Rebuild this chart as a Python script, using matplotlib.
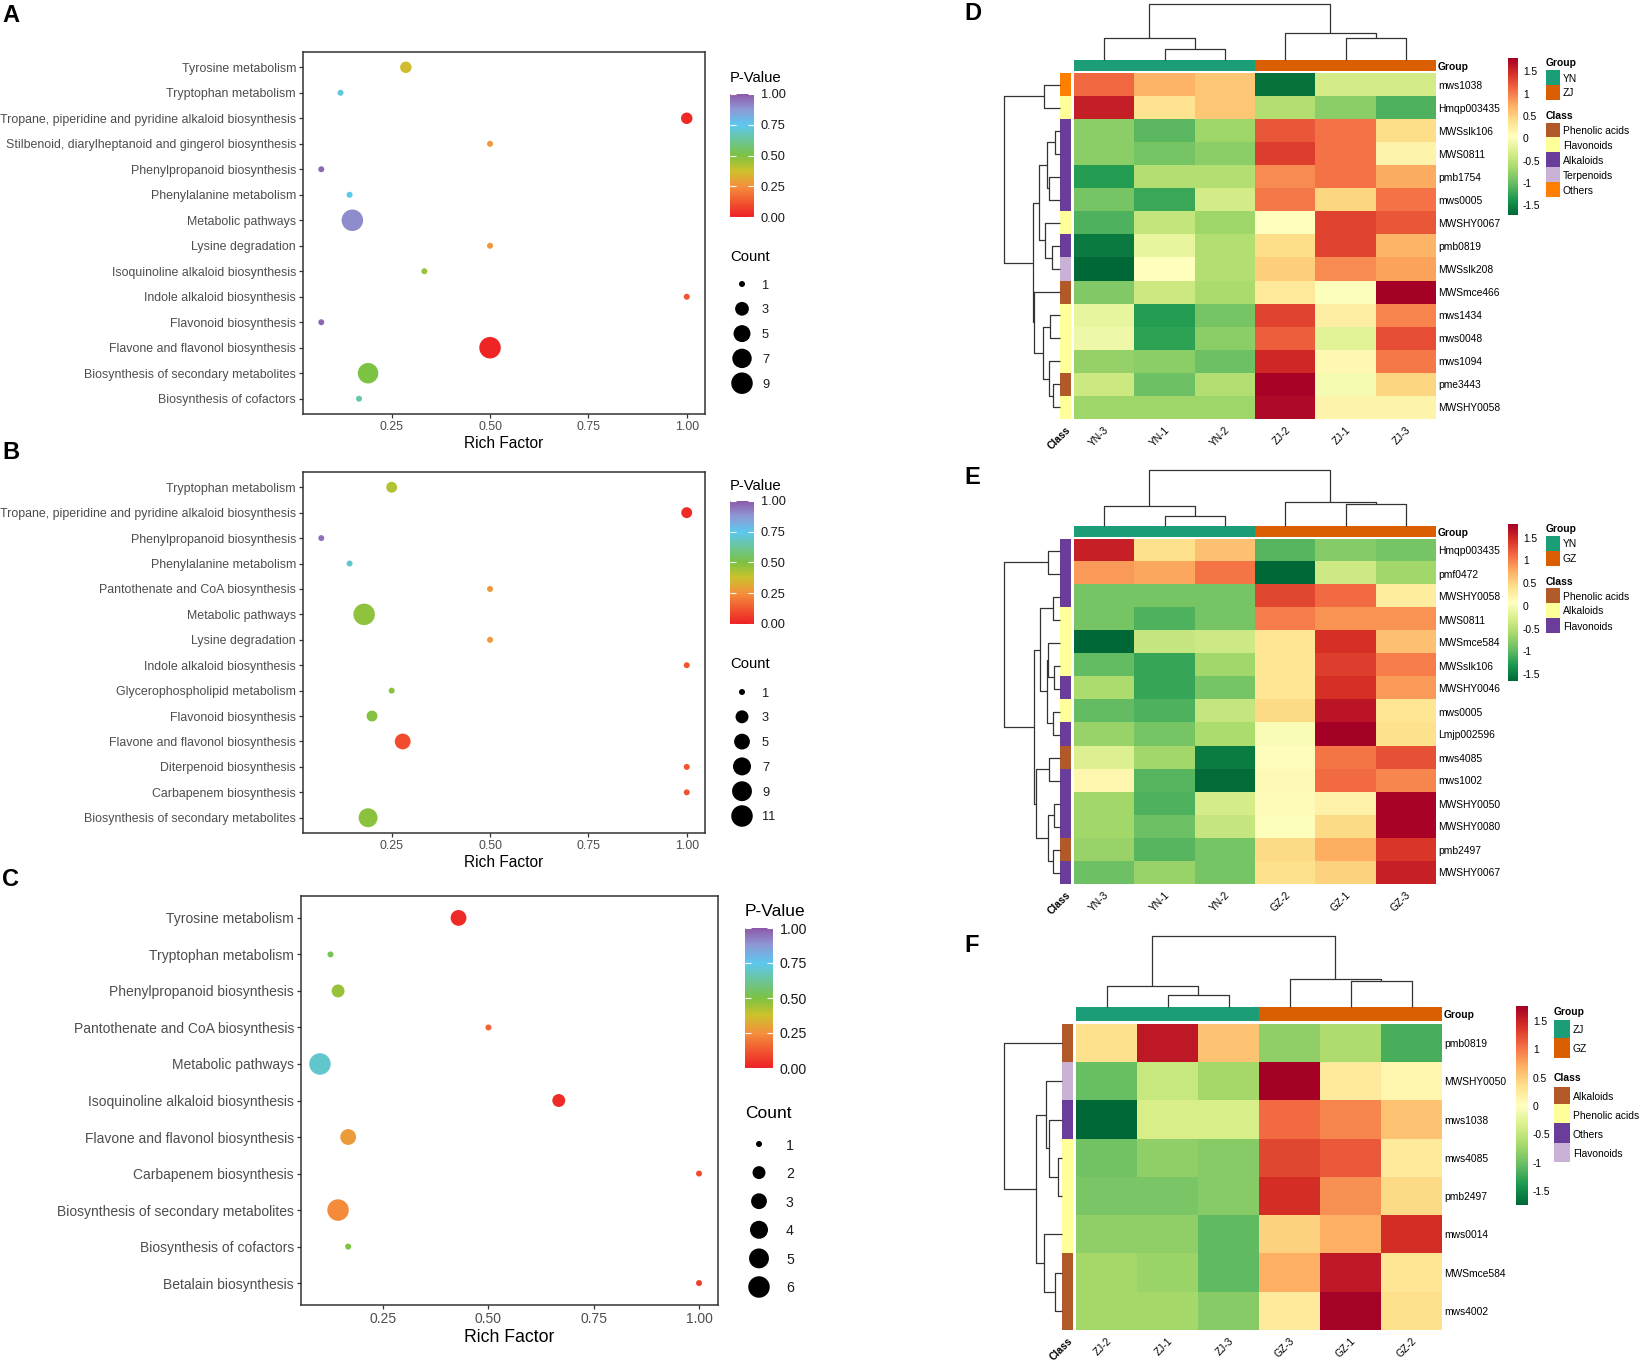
import numpy as np
import matplotlib
matplotlib.use('Agg')
import matplotlib.pyplot as plt
from matplotlib.colors import LinearSegmentedColormap, ListedColormap, Normalize
from matplotlib.cm import ScalarMappable
from matplotlib import font_manager

_avail = {f.name for f in font_manager.fontManager.ttflist}
BASE_FONT = 'Liberation Sans' if 'Liberation Sans' in _avail else 'DejaVu Sans'
if 'Liberation Sans Narrow' in _avail:
    HM_FONT, HM_FS = 'Liberation Sans Narrow', 8.8
else:
    HM_FONT, HM_FS = BASE_FONT, 7.4
plt.rcParams['font.family'] = [BASE_FONT, 'DejaVu Sans']

# ----------------------------------------------------------------- data: bubble plots
A_terms = ['Tyrosine metabolism', 'Tryptophan metabolism',
           'Tropane, piperidine and pyridine alkaloid biosynthesis',
           'Stilbenoid, diarylheptanoid and gingerol biosynthesis',
           'Phenylpropanoid biosynthesis', 'Phenylalanine metabolism',
           'Metabolic pathways', 'Lysine degradation',
           'Isoquinoline alkaloid biosynthesis', 'Indole alkaloid biosynthesis',
           'Flavonoid biosynthesis', 'Flavone and flavonol biosynthesis',
           'Biosynthesis of secondary metabolites', 'Biosynthesis of cofactors']
A_rich = [0.286, 0.12, 1.0, 0.5, 0.071, 0.143, 0.15, 0.5, 0.333, 1.0, 0.071, 0.5, 0.19, 0.167]
A_count = [2, 1, 2, 1, 1, 1, 9, 1, 1, 1, 1, 9, 8, 1]
A_pvalue = [0.36, 0.72, 0.02, 0.27, 0.97, 0.74, 0.90, 0.27, 0.46, 0.12, 0.97, 0.01, 0.50, 0.66]
A_count_breaks = [1, 3, 5, 7, 9]

B_terms = ['Tryptophan metabolism',
           'Tropane, piperidine and pyridine alkaloid biosynthesis',
           'Phenylpropanoid biosynthesis', 'Phenylalanine metabolism',
           'Pantothenate and CoA biosynthesis', 'Metabolic pathways',
           'Lysine degradation', 'Indole alkaloid biosynthesis',
           'Glycerophospholipid metabolism', 'Flavonoid biosynthesis',
           'Flavone and flavonol biosynthesis', 'Diterpenoid biosynthesis',
           'Carbapenem biosynthesis', 'Biosynthesis of secondary metabolites']
B_rich = [0.25, 1.0, 0.071, 0.143, 0.5, 0.18, 0.5, 1.0, 0.25, 0.2, 0.278, 1.0, 1.0, 0.19]
B_count = [2, 2, 1, 1, 1, 11, 1, 1, 1, 2, 5, 1, 1, 8]
B_pvalue = [0.42, 0.02, 0.95, 0.70, 0.27, 0.47, 0.27, 0.12, 0.48, 0.49, 0.10, 0.12, 0.12, 0.48]
B_count_breaks = [1, 3, 5, 7, 9, 11]

C_terms = ['Tyrosine metabolism', 'Tryptophan metabolism',
           'Phenylpropanoid biosynthesis', 'Pantothenate and CoA biosynthesis',
           'Metabolic pathways', 'Isoquinoline alkaloid biosynthesis',
           'Flavone and flavonol biosynthesis', 'Carbapenem biosynthesis',
           'Biosynthesis of secondary metabolites', 'Biosynthesis of cofactors',
           'Betalain biosynthesis']
C_rich = [0.429, 0.125, 0.143, 0.5, 0.1, 0.667, 0.167, 1.0, 0.143, 0.167, 1.0]
C_count = [3, 1, 2, 1, 6, 2, 3, 1, 6, 1, 1]
C_pvalue = [0.02, 0.53, 0.46, 0.15, 0.70, 0.03, 0.28, 0.10, 0.24, 0.50, 0.07]
C_count_breaks = [1, 2, 3, 4, 5, 6]

RICH_TICKS = [0.25, 0.50, 0.75, 1.00]
PVAL_TICKS = [0.0, 0.25, 0.50, 0.75, 1.00]

# ----------------------------------------------------------------- data: heatmaps
D_rows = ['mws1038', 'Hmqp003435', 'MWSslk106', 'MWS0811', 'pmb1754', 'mws0005',
          'MWSHY0067', 'pmb0819', 'MWSslk208', 'MWSmce466', 'mws1434', 'mws0048',
          'mws1094', 'pme3443', 'MWSHY0058']
D_cols = ['YN-3', 'YN-1', 'YN-2', 'ZJ-2', 'ZJ-1', 'ZJ-3']
D_values = [
    [1.12, 0.69, 0.57, -1.65, -0.35, -0.35],
    [1.57, 0.35, 0.57, -0.57, -0.80, -1.12],
    [-0.80, -1.07, -0.69, 1.22, 1.07, 0.40],
    [-0.80, -0.92, -0.80, 1.37, 1.07, 0.17],
    [-1.32, -0.57, -0.57, 0.92, 1.07, 0.75],
    [-0.92, -1.22, -0.35, 1.02, 0.46, 1.07],
    [-1.12, -0.46, -0.69, 0.03, 1.32, 1.22],
    [-1.57, -0.17, -0.57, 0.40, 1.32, 0.69],
    [-1.72, 0.05, -0.57, 0.51, 0.92, 0.80],
    [-0.86, -0.40, -0.63, 0.29, 0.02, 1.80],
    [-0.17, -1.32, -0.92, 1.32, 0.23, 0.97],
    [-0.11, -1.27, -0.80, 1.17, -0.23, 1.27],
    [-0.75, -0.80, -0.97, 1.50, 0.11, 1.02],
    [-0.40, -0.97, -0.57, 1.76, -0.05, 0.46],
    [-0.69, -0.69, -0.69, 1.72, 0.17, 0.17],
]
D_row_class = ['Others', 'Flavonoids', 'Alkaloids', 'Alkaloids', 'Alkaloids', 'Alkaloids',
               'Flavonoids', 'Alkaloids', 'Terpenoids', 'Phenolic acids', 'Flavonoids',
               'Flavonoids', 'Flavonoids', 'Phenolic acids', 'Flavonoids']
D_class_names = ['Phenolic acids', 'Flavonoids', 'Alkaloids', 'Terpenoids', 'Others']
D_group_names = ['YN', 'ZJ']
D_col_merges = [(1, 2, 0.19), (0, 6, 0.39), (4, 5, 0.39), (3, 8, 0.48), (7, 9, 1.0)]
D_row_merges = [(0, 1, 0.29), (2, 3, 0.09), (4, 5, 0.19), (16, 17, 0.23), (7, 8, 0.14),
                (6, 19, 0.27), (18, 20, 0.38), (10, 11, 0.18), (13, 14, 0.12),
                (12, 23, 0.20), (22, 24, 0.30), (9, 25, 0.46), (21, 26, 0.49),
                (15, 27, 1.0)]

E_rows = ['Hmqp003435', 'pmf0472', 'MWSHY0058', 'MWS0811', 'MWSmce584', 'MWSslk106',
          'MWSHY0046', 'mws0005', 'Lmjp002596', 'mws4085', 'mws1002', 'MWSHY0050',
          'MWSHY0080', 'pmb2497', 'MWSHY0067']
E_cols = ['YN-3', 'YN-1', 'YN-2', 'GZ-2', 'GZ-1', 'GZ-3']
E_values = [
    [1.57, 0.40, 0.63, -1.02, -0.80, -0.86],
    [0.86, 0.80, 1.07, -1.65, -0.35, -0.63],
    [-0.86, -0.86, -0.86, 1.32, 1.12, 0.29],
    [-0.86, -1.07, -0.86, 1.02, 0.90, 0.90],
    [-1.65, -0.40, -0.35, 0.35, 1.45, 0.63],
    [-0.97, -1.17, -0.63, 0.35, 1.37, 1.02],
    [-0.57, -1.17, -0.86, 0.35, 1.45, 0.86],
    [-0.97, -1.07, -0.40, 0.46, 1.65, 0.35],
    [-0.69, -0.86, -0.57, 0.02, 1.80, 0.40],
    [-0.23, -0.63, -1.50, 0.09, 1.07, 1.27],
    [0.17, -1.02, -1.61, 0.13, 1.12, 0.97],
    [-0.63, -1.07, -0.29, 0.11, 0.21, 1.76],
    [-0.63, -0.92, -0.40, 0.05, 0.46, 1.76],
    [-0.69, -1.02, -0.86, 0.46, 0.75, 1.42],
    [-0.92, -0.69, -0.86, 0.40, 0.51, 1.57],
]
E_row_class = ['Flavonoids', 'Flavonoids', 'Flavonoids', 'Alkaloids', 'Alkaloids',
               'Alkaloids', 'Flavonoids', 'Alkaloids', 'Flavonoids', 'Phenolic acids',
               'Flavonoids', 'Flavonoids', 'Flavonoids', 'Phenolic acids', 'Flavonoids']
E_class_names = ['Phenolic acids', 'Alkaloids', 'Flavonoids']
E_group_names = ['YN', 'GZ']
E_col_merges = [(1, 2, 0.18), (0, 6, 0.35), (4, 5, 0.40), (3, 8, 0.43), (7, 9, 1.0)]
E_row_merges = [(0, 1, 0.21), (2, 3, 0.12), (5, 6, 0.10), (4, 17, 0.21), (7, 8, 0.12),
                (18, 19, 0.24), (16, 20, 0.35), (9, 10, 0.19), (11, 12, 0.10),
                (13, 14, 0.12), (23, 24, 0.21), (22, 25, 0.42), (21, 26, 0.47),
                (15, 27, 1.0)]

F_rows = ['pmb0819', 'MWSHY0050', 'mws1038', 'mws4085', 'pmb2497', 'mws0014',
          'MWSmce584', 'mws4002']
F_cols = ['ZJ-2', 'ZJ-1', 'ZJ-3', 'GZ-3', 'GZ-1', 'GZ-2']
F_values = [
    [0.35, 1.57, 0.57, -0.80, -0.63, -1.17],
    [-1.02, -0.46, -0.69, 1.76, 0.23, 0.11],
    [-1.74, -0.35, -0.35, 1.07, 0.92, 0.57],
    [-0.97, -0.80, -0.86, 1.27, 1.17, 0.23],
    [-0.92, -0.92, -0.86, 1.42, 0.86, 0.40],
    [-0.80, -0.80, -1.07, 0.46, 0.69, 1.42],
    [-0.69, -0.75, -1.07, 0.69, 1.57, 0.29],
    [-0.69, -0.69, -0.86, 0.23, 1.74, 0.35],
]
F_row_class = ['Alkaloids', 'Flavonoids', 'Others', 'Phenolic acids', 'Phenolic acids',
               'Phenolic acids', 'Alkaloids', 'Alkaloids']
F_class_names = ['Alkaloids', 'Phenolic acids', 'Others', 'Flavonoids']
F_group_names = ['ZJ', 'GZ']
F_col_merges = [(1, 2, 0.17), (0, 6, 0.29), (4, 5, 0.36), (3, 8, 0.40), (7, 9, 1.0)]
F_row_merges = [(3, 4, 0.07), (2, 8, 0.22), (1, 9, 0.28), (6, 7, 0.12), (5, 11, 0.31),
                (10, 12, 0.45), (0, 13, 1.0)]

HM_TICKS = [-1.5, -1, -0.5, 0, 0.5, 1, 1.5]

# ----------------------------------------------------------------- styles
GROUP_COLORS = ['#1B9E77', '#D95F02']
D_class_colors = ['#B15928', '#FFFF99', '#6A3D9A', '#CAB2D6', '#FF7F00']
E_class_colors = ['#B15928', '#FFFF99', '#6A3D9A']
F_class_colors = ['#B15928', '#FFFF99', '#6A3D9A', '#CAB2D6']
P_STOPS = [(0.0, '#EE2024'), (0.25, '#F4903C'), (0.38, '#CBC22C'), (0.5, '#7CC242'),
           (0.75, '#5CC8EE'), (0.88, '#8E98D4'), (1.0, '#8C59A8')]
pcmap = LinearSegmentedColormap.from_list('pval', P_STOPS)
pnorm = Normalize(0, 1)

W, H, DPI = 1643, 1365, 100
fig = plt.figure(figsize=(W / DPI, H / DPI), dpi=DPI)
fig.patch.set_facecolor('white')


def px_axes(l, t, r, b):
    return fig.add_axes([l / W, 1 - b / H, (r - l) / W, (b - t) / H])


def ftxt(x, y, s, **kw):
    fig.text(x / W, 1 - y / H, s, **kw)


def diam_px(c, cmin, cmax, dmin=6.0, dmax=21.5):
    t = (np.asarray(c, float) - cmin) / (cmax - cmin)
    return dmin + (dmax - dmin) * np.sqrt(t)


def s_from_d(d):
    return (np.asarray(d) * 72.0 / DPI) ** 2


def bubble_panel(terms, rich, counts, pvals, breaks, L):
    ax = px_axes(*L['box'])
    n = len(terms)
    y = np.arange(n)
    cmin, cmax = min(counts), max(counts)
    ax.scatter(rich, y, s=s_from_d(diam_px(counts, cmin, cmax)), c=pvals, cmap=pcmap,
               norm=pnorm, edgecolors='none', zorder=3)
    ax.set_yticks(y)
    ax.set_yticklabels(terms)
    ax.set_ylim(n - 1 + 0.6, -0.6)
    lo, hi = min(rich), max(rich)
    r = hi - lo
    ax.set_xlim(lo - 0.05 * r, hi + 0.05 * r)
    ax.set_xticks(RICH_TICKS)
    ax.set_xticklabels(['%.2f' % v for v in RICH_TICKS])
    for s in ax.spines.values():
        s.set_linewidth(1.1)
        s.set_color('#333333')
    ax.tick_params(axis='both', length=3, width=0.9, color='#333333',
                   labelcolor='#4D4D4D', labelsize=L['fs'], pad=2)
    ax.set_xlabel('Rich Factor', fontsize=L['tfs'], color='black', labelpad=2)

    # P-value colourbar
    cax = px_axes(*L['cbar'])
    cb = fig.colorbar(ScalarMappable(norm=pnorm, cmap=pcmap), cax=cax)
    cb.outline.set_visible(False)
    cb.set_ticks(PVAL_TICKS)
    cb.set_ticklabels(['%.2f' % v for v in PVAL_TICKS])
    cax.tick_params(which='both', direction='in', length=4.5, width=0.8, color='white',
                    left=True, right=True, labelleft=False, labelright=True,
                    labelsize=L['lfs'], labelcolor='#1A1A1A', pad=5)
    cb.ax.minorticks_off()
    ftxt(L['cbar'][0], L['ptitle_y'], 'P-Value', fontsize=L['ltfs'], va='center', ha='left')
    ftxt(L['cbar'][0], L['ctitle_y'], 'Count', fontsize=L['ltfs'], va='center', ha='left')

    # Count legend
    k = len(breaks)
    y0, st, cx = L['leg_y0'], L['leg_step'], L['leg_cx']
    lax = px_axes(cx - 12, y0 - st / 2, cx + 12, y0 + st * (k - 0.5))
    lax.scatter(np.zeros(k), np.arange(k), s=s_from_d(diam_px(breaks, cmin, cmax)),
                color='black', edgecolors='none')
    lax.set_xlim(-1, 1)
    lax.set_ylim(k - 0.5, -0.5)
    lax.set_xticks([])
    lax.set_yticks(np.arange(k))
    lax.yaxis.tick_right()
    lax.set_yticklabels([str(b) for b in breaks])
    lax.tick_params(length=0, labelsize=L['lfs'], labelcolor='#1A1A1A',
                    pad=(L['leg_lx'] - (cx + 12)) * 72 / DPI)
    for s in lax.spines.values():
        s.set_visible(False)
    lax.patch.set_alpha(0)
    return ax


def draw_dendro(ax, merges, n, orient):
    pos = {i: float(i) for i in range(n)}
    hgt = {i: 0.0 for i in range(n)}
    for k, (a, b, h) in enumerate(merges):
        xa, xb = pos[a], pos[b]
        if orient == 'top':
            ax.plot([xa, xa, xb, xb], [hgt[a], h, h, hgt[b]], color='#333333', lw=0.9,
                    clip_on=False, solid_capstyle='butt')
        else:
            ax.plot([hgt[a], h, h, hgt[b]], [xa, xa, xb, xb], color='#333333', lw=0.9,
                    clip_on=False, solid_capstyle='butt')
        pos[n + k] = (xa + xb) / 2.0
        hgt[n + k] = h
    if orient == 'top':
        ax.set_xlim(-0.5, n - 0.5)
        ax.set_ylim(0, 1.0)
    else:
        ax.set_ylim(n - 0.5, -0.5)
        ax.set_xlim(1.0, 0)
    ax.axis('off')


def hm_text_kw(bold=False):
    return dict(fontfamily=[HM_FONT, 'DejaVu Sans'], fontsize=HM_FS,
                fontweight='bold' if bold else 'normal')


def heatmap_panel(values, rows, cols, row_class, class_names, class_colors, group_names,
                  col_merges, row_merges, L):
    data = np.array(values, float)
    nr, nc = data.shape
    ax = px_axes(*L['heat'])
    im = ax.imshow(data, cmap='RdYlGn_r', vmin=data.min(), vmax=data.max(), aspect='auto',
                   interpolation='nearest')
    ax.set_xticks(range(nc))
    ax.set_xticklabels(cols, rotation=45, ha='right', va='top', rotation_mode='anchor',
                       **hm_text_kw())
    ax.set_yticks(range(nr))
    ax.yaxis.tick_right()
    ax.set_yticklabels(rows, **hm_text_kw())
    ax.tick_params(axis='y', length=0, pad=1.5)
    ax.tick_params(axis='x', length=0, pad=4)
    for s in ax.spines.values():
        s.set_visible(False)

    # group annotation bar
    gax = px_axes(*L['gbar'])
    gidx = [group_names.index(c.split('-')[0]) for c in cols]
    gax.imshow(np.array([gidx]), cmap=ListedColormap(GROUP_COLORS[:len(group_names)]),
               vmin=-0.5, vmax=len(group_names) - 0.5, aspect='auto', interpolation='nearest')
    gax.set_xticks([])
    gax.set_yticks([0])
    gax.yaxis.tick_right()
    gax.set_yticklabels(['Group'], **hm_text_kw(True))
    gax.tick_params(length=0, pad=1.5)
    for s in gax.spines.values():
        s.set_visible(False)

    # class annotation bar
    cax = px_axes(*L['cls'])
    cidx = [class_names.index(c) for c in row_class]
    cax.imshow(np.array(cidx)[:, None], cmap=ListedColormap(class_colors),
               vmin=-0.5, vmax=len(class_names) - 0.5, aspect='auto', interpolation='nearest')
    cax.set_yticks([])
    cax.set_xticks([0])
    cax.set_xticklabels(['Class'], rotation=45, ha='right', va='top', rotation_mode='anchor',
                        **hm_text_kw(True))
    cax.tick_params(length=0, pad=4)
    for s in cax.spines.values():
        s.set_visible(False)

    # dendrograms
    draw_dendro(px_axes(*L['cden']), col_merges, nc, 'top')
    draw_dendro(px_axes(*L['rden']), row_merges, nr, 'left')

    # colourbar
    cbx = px_axes(*L['cbar'])
    cb = fig.colorbar(im, cax=cbx)
    cb.outline.set_visible(False)
    cb.set_ticks(HM_TICKS)
    cb.set_ticklabels(['%g' % v for v in HM_TICKS])
    cbx.tick_params(length=0, pad=3.5, labelsize=HM_FS)
    for t in cbx.get_yticklabels():
        t.set_fontfamily([HM_FONT, 'DejaVu Sans'])
    cb.ax.minorticks_off()

    # legends (Group / Class)
    lx, bw, st = L['leg_x'], L['box_w'], L['step']
    for title, ty, y0, names, colors in (
            ('Group', L['g_title'], L['g_y0'], group_names, GROUP_COLORS[:len(group_names)]),
            ('Class', L['c_title'], L['c_y0'], class_names, class_colors)):
        ftxt(lx, ty, title, va='center', ha='left', **hm_text_kw(True))
        k = len(names)
        lax = px_axes(lx, y0 - st / 2, lx + bw, y0 + st * (k - 0.5))
        lax.imshow(np.arange(k)[:, None], cmap=ListedColormap(colors), vmin=-0.5,
                   vmax=k - 0.5, aspect='auto', interpolation='nearest')
        lax.set_xticks([])
        lax.set_yticks(range(k))
        lax.yaxis.tick_right()
        lax.set_yticklabels(names, **hm_text_kw())
        lax.tick_params(length=0, pad=2)
        for s in lax.spines.values():
            s.set_visible(False)


# ----------------------------------------------------------------- layout
LAY_A = dict(box=(303, 52, 705, 414), cbar=(730, 94, 754, 217), ptitle_y=78, ctitle_y=257,
             leg_y0=284, leg_step=24.8, leg_cx=742, leg_lx=762, fs=8.88, tfs=11.2, lfs=9.2,
             ltfs=10.7)
LAY_B = dict(box=(303, 472, 705, 833), cbar=(730, 501, 754, 624), ptitle_y=486, ctitle_y=664,
             leg_y0=692, leg_step=24.8, leg_cx=742, leg_lx=762, fs=8.88, tfs=11.2, lfs=9.2,
             ltfs=10.7)
LAY_C = dict(box=(301, 896, 718, 1305), cbar=(745, 928, 773, 1068), ptitle_y=911,
             ctitle_y=1113, leg_y0=1144, leg_step=28.6, leg_cx=759, leg_lx=786, fs=10,
             tfs=12.7, lfs=10.2, ltfs=12.5)

LAY_D = dict(heat=(1074, 73, 1436, 419), gbar=(1074, 60, 1436, 71), cden=(1074, 4, 1436, 60),
             cls=(1060, 73, 1071, 419), rden=(1004, 73, 1060, 419), cbar=(1508, 58, 1518, 215),
             leg_x=1546, box_w=14, g_title=63, g_y0=77.5, c_title=116, c_y0=130, step=15)
LAY_E = dict(heat=(1074, 539, 1436, 884), gbar=(1074, 526, 1436, 537),
             cden=(1074, 470, 1436, 526), cls=(1060, 539, 1071, 884),
             rden=(1004, 539, 1060, 884), cbar=(1508, 524, 1518, 681),
             leg_x=1546, box_w=14, g_title=529, g_y0=543, c_title=582, c_y0=595.5, step=15)
LAY_F = dict(heat=(1076, 1024, 1442, 1330), gbar=(1076, 1007, 1442, 1021),
             cden=(1076, 936, 1442, 1007), cls=(1062, 1024, 1073, 1330),
             rden=(1004, 1024, 1062, 1330), cbar=(1516, 1006, 1528, 1205),
             leg_x=1554, box_w=16, g_title=1012, g_y0=1029, c_title=1078, c_y0=1096, step=19)

bubble_panel(A_terms, A_rich, A_count, A_pvalue, A_count_breaks, LAY_A)
bubble_panel(B_terms, B_rich, B_count, B_pvalue, B_count_breaks, LAY_B)
bubble_panel(C_terms, C_rich, C_count, C_pvalue, C_count_breaks, LAY_C)

heatmap_panel(D_values, D_rows, D_cols, D_row_class, D_class_names, D_class_colors,
              D_group_names, D_col_merges, D_row_merges, LAY_D)
heatmap_panel(E_values, E_rows, E_cols, E_row_class, E_class_names, E_class_colors,
              E_group_names, E_col_merges, E_row_merges, LAY_E)
heatmap_panel(F_values, F_rows, F_cols, F_row_class, F_class_names, F_class_colors,
              F_group_names, F_col_merges, F_row_merges, LAY_F)

# panel letters
for letter, (x, y) in zip('ABCDEF', [(2, 16), (2, 453), (2, 879), (964, 14), (964, 478),
                                      (964, 945)]):
    ftxt(x, y, letter, fontsize=17, fontweight='bold', va='center', ha='left')

fig.savefig('out.png', dpi=DPI, facecolor='white')
